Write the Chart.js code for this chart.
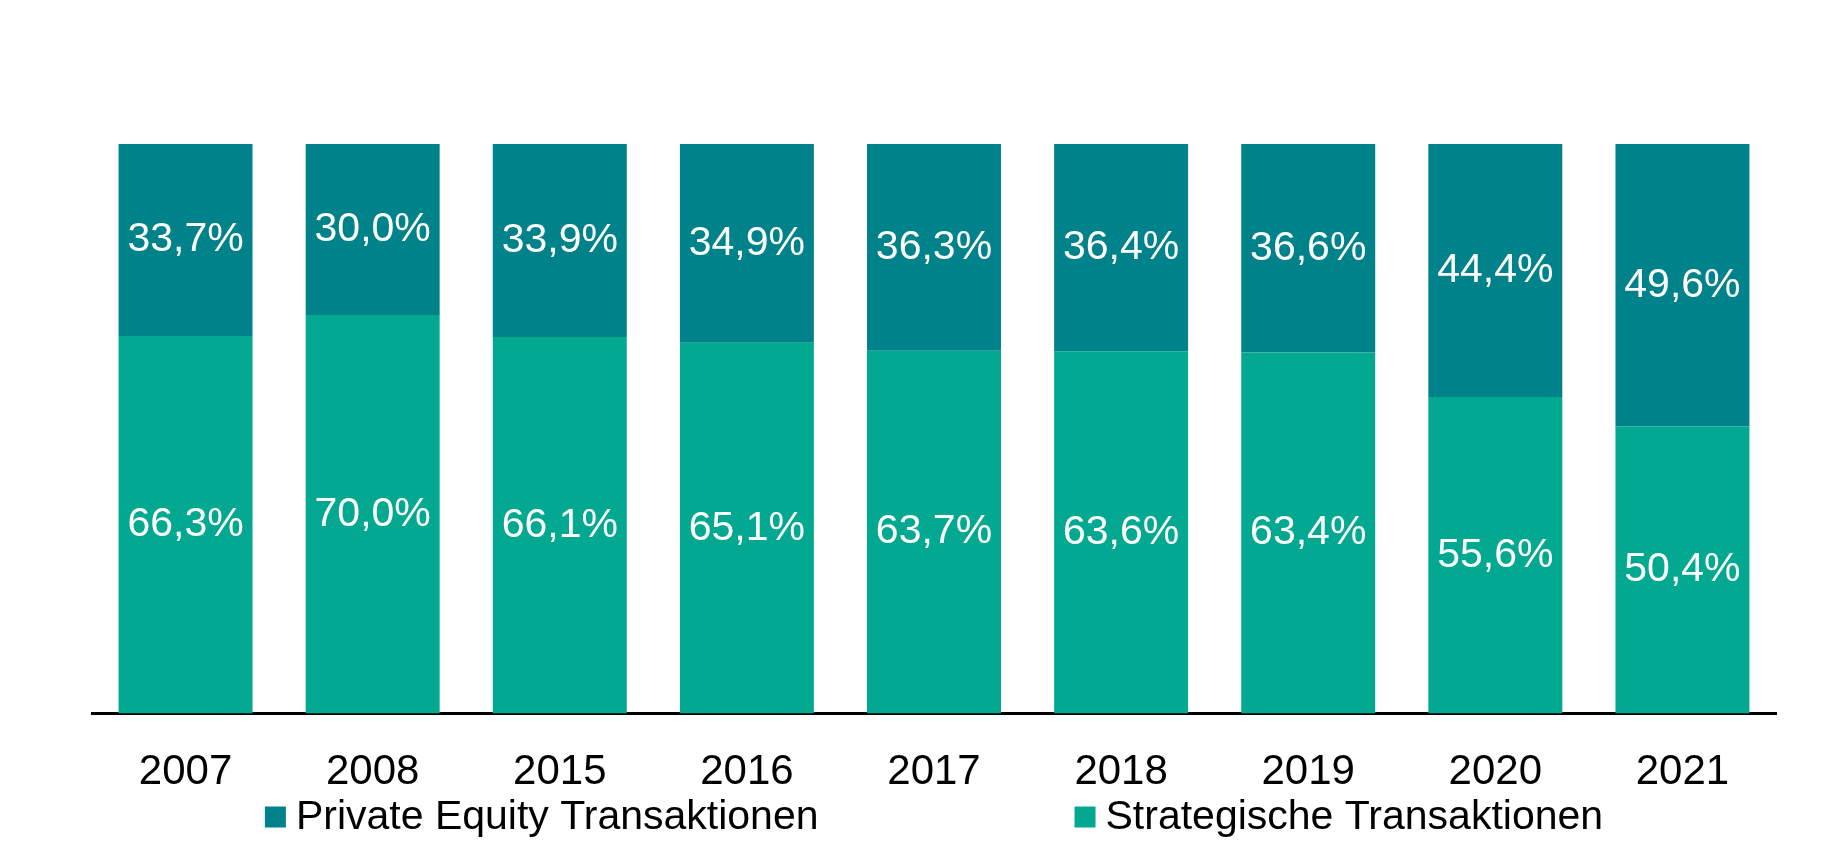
<!DOCTYPE html>
<html>
<head>
<meta charset="utf-8">
<script src="https://cdn.jsdelivr.net/npm/chart.js@4"></script>
<style>
  html, body { margin: 0; padding: 0; background: #fff; }
  canvas { display: block; }
</style>
</head>
<body>
<canvas id="chart" width="1840" height="859"></canvas>
<script>
// ================= DATA =================
const years = ["2007", "2008", "2015", "2016", "2017", "2018", "2019", "2020", "2021"];
const strategicShare = [66.3, 70.0, 66.1, 65.1, 63.7, 63.6, 63.4, 55.6, 50.4];
const privateEquityShare = [33.7, 30.0, 33.9, 34.9, 36.3, 36.4, 36.6, 44.4, 49.6];

const COLOR_PE = "#00828a";
const COLOR_STRAT = "#02a88f";
const FONT = "'Liberation Sans', Arial, Helvetica, sans-serif";

const fmt = (v) => v.toFixed(1).replace(".", ",") + "%";

// ================= PLUGINS =================
// value labels centred in each segment
const segmentLabels = {
    id: "segmentLabels",
    afterDatasetsDraw(chart) {
        const ctx = chart.ctx;
        ctx.save();
        ctx.font = "41px " + FONT;
        ctx.fillStyle = "#fff";
        ctx.textAlign = "center";
        ctx.textBaseline = "middle";
        chart.data.datasets.forEach((ds, di) => {
            chart.getDatasetMeta(di).data.forEach((bar, i) => {
                const y = (bar.y + bar.base) / 2;
                ctx.fillText(fmt(ds.data[i]), bar.x, y);
            });
        });
        ctx.restore();
    }
};

// legend row under the axis labels (PE first, then strategic)
const bottomLegend = {
    id: "bottomLegend",
    afterDraw(chart) {
        const ctx = chart.ctx;
        const area = chart.chartArea;
        const box = 21, gap = 10, spacing = 256;
        const items = [chart.data.datasets[1], chart.data.datasets[0]];

        ctx.save();
        ctx.font = "41px " + FONT;
        ctx.textBaseline = "middle";
        ctx.textAlign = "left";

        const widths = items.map(ds => box + gap + ctx.measureText(ds.label).width);
        const total = widths[0] + spacing + widths[1];
        let x = (area.left + area.right) / 2 - total / 2;
        const y = 817;

        items.forEach((ds, i) => {
            ctx.fillStyle = ds.backgroundColor;
            ctx.fillRect(x, y - box / 2, box, box);
            ctx.fillStyle = "#000";
            ctx.fillText(ds.label, x + box + gap, y + 1);
            x += widths[i] + spacing;
        });
        ctx.restore();
    }
};

// ================= CHART =================
new Chart(document.getElementById("chart").getContext("2d"), {
    type: "bar",
    data: {
        labels: years,
        datasets: [
            {
                label: "Strategische Transaktionen",
                data: strategicShare,
                backgroundColor: COLOR_STRAT,
                barPercentage: 0.716,
                categoryPercentage: 1.0
            },
            {
                label: "Private Equity Transaktionen",
                data: privateEquityShare,
                backgroundColor: COLOR_PE,
                barPercentage: 0.716,
                categoryPercentage: 1.0
            }
        ]
    },
    plugins: [segmentLabels, bottomLegend],
    options: {
        responsive: false,
        animation: false,
        layout: {
            padding: { top: 144, left: 92, right: 64, bottom: 27 }
        },
        plugins: {
            legend: { display: false },
            tooltip: { enabled: false },
            title: { display: false }
        },
        scales: {
            x: {
                stacked: true,
                grid: { display: false, drawTicks: false },
                border: { display: true, color: "#000", width: 3 },
                ticks: {
                    color: "#000",
                    font: { family: FONT, size: 42 },
                    padding: 34
                }
            },
            y: {
                stacked: true,
                display: false,
                min: 0,
                max: 100
            }
        }
    }
});
</script>
</body>
</html>
